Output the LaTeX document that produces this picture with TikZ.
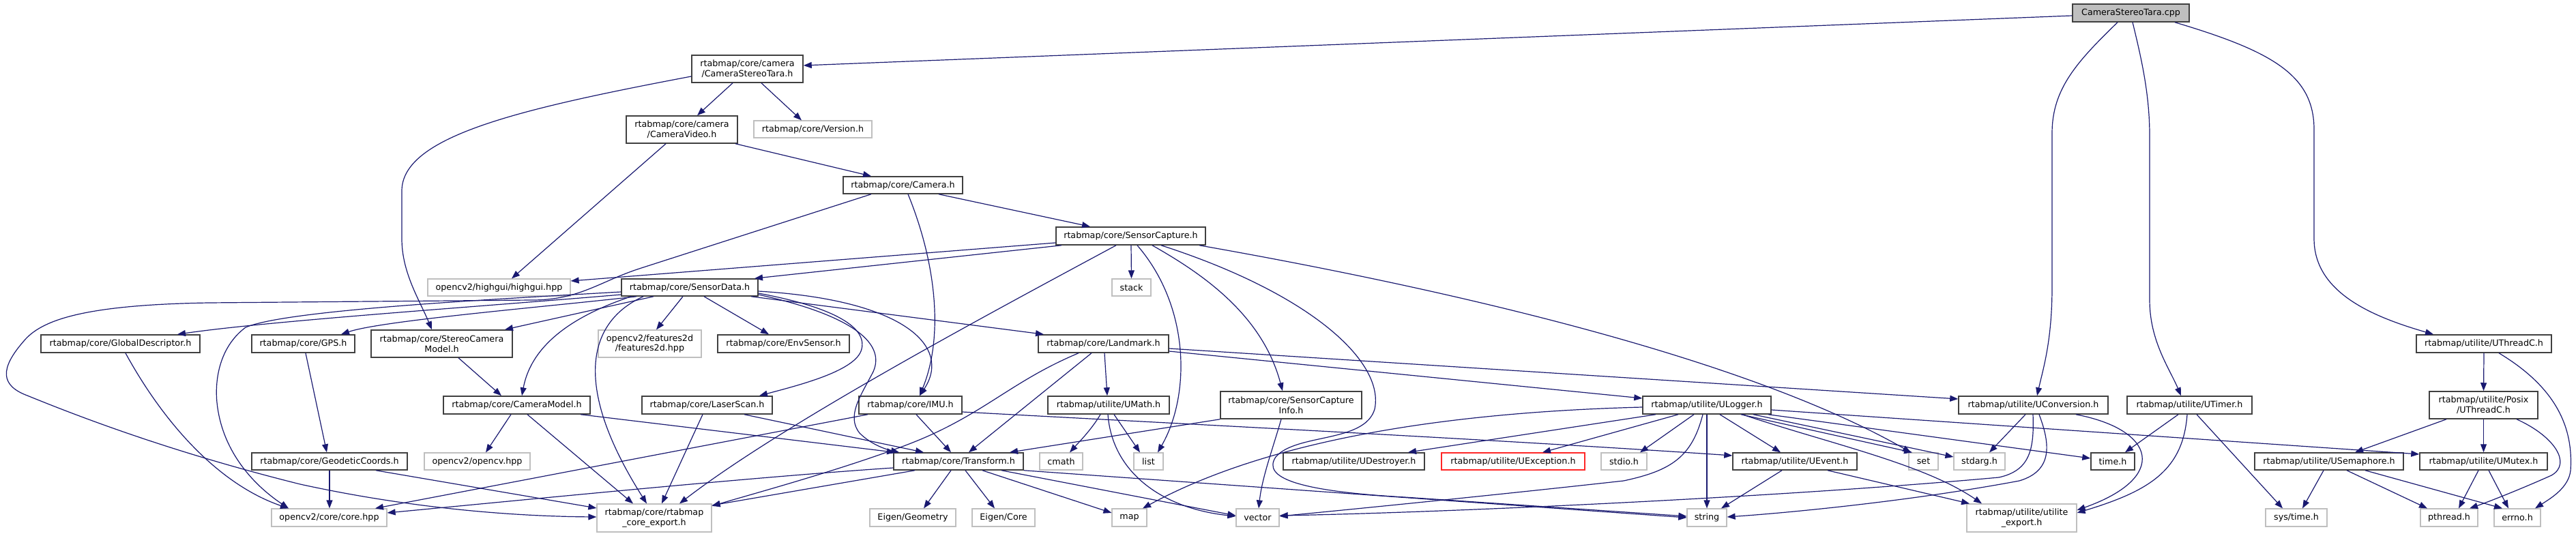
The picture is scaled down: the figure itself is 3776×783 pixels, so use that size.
\documentclass[tikz,border=0pt]{standalone}
\usepackage{fontspec}
\setmainfont{DejaVu Sans}
\usetikzlibrary{arrows.meta}
\definecolor{dblue}{HTML}{191970}
\definecolor{gdark}{HTML}{404040}
\definecolor{glight}{HTML}{BFBFBF}
\newcommand\dxfont{\fontsize{12.7pt}{14.6pt}\selectfont}
\tikzset{
  nb/.style={draw=gdark, line width=1.5pt, fill=white, inner sep=0pt, align=center, font=\dxfont},
  ng/.style={draw=glight, line width=1.2pt, fill=white, inner sep=0pt, align=center, font=\dxfont},
  nr/.style={draw=gdark, line width=1.5pt, fill=glight, inner sep=0pt, align=center, font=\dxfont},
  nred/.style={draw=red!85, line width=1.3pt, fill=white, inner sep=0pt, align=center, font=\dxfont},
  edge/.style={draw=dblue, line width=1.2pt, -{Triangle[length=12pt,width=9pt]}},
}
\begin{document}
\begin{tikzpicture}[x=1pt,y=-1pt]
\useasboundingbox (0,0) rectangle (3776,783);
% rank 0-4
\node[nr, minimum width=171, minimum height=26] (cpp) at (3123.5,19) {CameraStereoTara.cpp};
\node[nb, minimum width=163, minimum height=40] (tara) at (1095.5,101) {rtabmap/core/camera\\/CameraStereoTara.h};
\node[nb, minimum width=163, minimum height=40] (video) at (999.5,190) {rtabmap/core/camera\\/CameraVideo.h};
\node[ng, minimum width=173, minimum height=25] (version) at (1191.5,189.5) {rtabmap/core/Version.h};
\node[nb, minimum width=175, minimum height=25] (camera) at (1323.5,271.5) {rtabmap/core/Camera.h};
\node[nb, minimum width=219, minimum height=26] (capture) at (1657.5,346) {rtabmap/core/SensorCapture.h};
% rank 5
\node[ng, minimum width=209, minimum height=25] (highgui) at (731.5,421.5) {opencv2/highgui/highgui.hpp};
\node[nb, minimum width=200, minimum height=25] (sdata) at (1011,421.5) {rtabmap/core/SensorData.h};
\node[ng, minimum width=57, minimum height=25] (stack) at (1658.5,421.5) {stack};
% rank 6
\node[nb, minimum width=233, minimum height=26] (gdesc) at (176.5,504) {rtabmap/core/GlobalDescriptor.h};
\node[nb, minimum width=151, minimum height=26] (gps) at (444.5,504) {rtabmap/core/GPS.h};
\node[nb, minimum width=207, minimum height=40] (stereo) at (647.5,504) {rtabmap/core/StereoCamera\\Model.h};
\node[ng, minimum width=151, minimum height=40] (f2d) at (952.5,504) {opencv2/features2d\\/features2d.hpp};
\node[nb, minimum width=193, minimum height=26] (env) at (1148.5,504) {rtabmap/core/EnvSensor.h};
\node[nb, minimum width=191, minimum height=26] (landmark) at (1617.5,504) {rtabmap/core/Landmark.h};
\node[nb, minimum width=198, minimum height=26] (uthreadc) at (3641,504) {rtabmap/utilite/UThreadC.h};
% rank 7
\node[nb, minimum width=215, minimum height=26] (cammodel) at (757.5,594) {rtabmap/core/CameraModel.h};
\node[nb, minimum width=191, minimum height=26] (laser) at (1036.5,594) {rtabmap/core/LaserScan.h};
\node[nb, minimum width=151, minimum height=26] (imu) at (1334.5,594) {rtabmap/core/IMU.h};
\node[nb, minimum width=178, minimum height=26] (umath) at (1625,594) {rtabmap/utilite/UMath.h};
\node[nb, minimum width=207, minimum height=40] (scinfo) at (1892.5,594) {rtabmap/core/SensorCapture\\Info.h};
\node[nb, minimum width=188, minimum height=26] (ulogger) at (2502,594) {rtabmap/utilite/ULogger.h};
\node[nb, minimum width=219, minimum height=26] (uconv) at (2980.5,594) {rtabmap/utilite/UConversion.h};
\node[nb, minimum width=183, minimum height=26] (utimer) at (3209.5,594) {rtabmap/utilite/UTimer.h};
\node[nb, minimum width=159, minimum height=40] (posix) at (3640.5,594) {rtabmap/utilite/Posix\\/UThreadC.h};
% rank 8
\node[nb, minimum width=228, minimum height=25] (geodetic) at (483,676.5) {rtabmap/core/GeodeticCoords.h};
\node[ng, minimum width=155, minimum height=25] (opencv) at (699.5,676.5) {opencv2/opencv.hpp};
\node[nb, minimum width=190, minimum height=25] (transform) at (1405,676.5) {rtabmap/core/Transform.h};
\node[ng, minimum width=63, minimum height=25] (cmath) at (1555.5,676.5) {cmath};
\node[ng, minimum width=43, minimum height=25] (list) at (1683.5,676.5) {list};
\node[nb, minimum width=207, minimum height=25] (udestroyer) at (1984.5,676.5) {rtabmap/utilite/UDestroyer.h};
\node[nred, minimum width=210, minimum height=25] (uexception) at (2218,676.5) {rtabmap/utilite/UException.h};
\node[ng, minimum width=67, minimum height=25] (stdio) at (2380.5,676.5) {stdio.h};
\node[nb, minimum width=182, minimum height=25] (uevent) at (2631,676.5) {rtabmap/utilite/UEvent.h};
\node[ng, minimum width=43, minimum height=25] (set) at (2819.5,676.5) {set};
\node[ng, minimum width=75, minimum height=25] (stdarg) at (2901.5,676.5) {stdarg.h};
\node[nb, minimum width=64, minimum height=25] (time) at (3097,676.5) {time.h};
\node[nb, minimum width=218, minimum height=25] (usem) at (3414,676.5) {rtabmap/utilite/USemaphore.h};
\node[nb, minimum width=187, minimum height=25] (umutex) at (3640.5,676.5) {rtabmap/utilite/UMutex.h};
% rank 9
\node[ng, minimum width=169, minimum height=26] (corehpp) at (482.5,759) {opencv2/core/core.hpp};
\node[ng, minimum width=168, minimum height=41] (coreexp) at (959,759.5) {rtabmap/core/rtabmap\\\_core\_export.h};
\node[ng, minimum width=126, minimum height=26] (egeom) at (1338,759) {Eigen/Geometry};
\node[ng, minimum width=92, minimum height=26] (ecore) at (1471,759) {Eigen/Core};
\node[ng, minimum width=51, minimum height=26] (map) at (1655.5,759) {map};
\node[ng, minimum width=63, minimum height=26] (vector) at (1843.5,759) {vector};
\node[ng, minimum width=58, minimum height=26] (string) at (2502,759) {string};
\node[ng, minimum width=161, minimum height=41] (uexport) at (2963.5,759.5) {rtabmap/utilite/utilite\\\_export.h};
\node[ng, minimum width=90, minimum height=26] (systime) at (3366,759) {sys/time.h};
\node[ng, minimum width=84, minimum height=26] (pthread) at (3590,759) {pthread.h};
\node[ng, minimum width=68, minimum height=26] (errno) at (3690,759) {errno.h};

% ---- edges: root
\draw[edge] (cpp.west |- 0,23) -- (tara.east |- 0,96);
\draw[edge] (cpp.south -| 3104,0) .. controls (3045,90) and (3008,130) .. (3008,195) -- (3008,420) .. controls (3008,500) and (2995,540) .. (uconv.north -| 2986,0);
\draw[edge] (cpp.south -| 3126,0) .. controls (3140,90) and (3151,140) .. (3151,200) -- (3151,440) .. controls (3151,500) and (3180,540) .. (utimer.north -| 3197,0);
\draw[edge] (cpp.south -| 3188,0) .. controls (3330,75) and (3392,110) .. (3392,190) -- (3392,350) .. controls (3392,430) and (3480,465) .. (uthreadc.north -| 3567,0);
% tara
\draw[edge] (tara.south -| 1074,0) -- (video.north -| 1022,0);
\draw[edge] (tara.south -| 1116,0) -- (version.north -| 1175,0);
\draw[edge] (tara.west |- 0,112) .. controls (760,160) and (589,200) .. (589,280) -- (589,350) .. controls (589,400) and (615,440) .. (stereo.north -| 633,0);
% video
\draw[edge] (video.south -| 1078,0) -- (camera.north -| 1277,0);
\draw[edge] (video.south -| 976,0) -- (highgui.north -| 750,0);
% camera
\draw[edge] (camera.south -| 1376,0) -- (capture.north -| 1598,0);
\draw[edge] (camera.south -| 1331,0) .. controls (1370,380) and (1385,490) .. (imu.north -| 1348,0);
\draw[edge] (camera.south -| 1277,0) -- (940,393) .. controls (880,412) and (850,440) .. (780,440) -- (306,444) .. controls (120,447) and (60,470) .. (35,500) .. controls (0,540) and (0,565) .. (40,580) .. controls (150,625) and (280,670) .. (440,710) .. controls (600,745) and (750,757) .. (coreexp.west |- 0,758);
% capture
\draw[edge] (capture.west |- 0,356) -- (highgui.east |- 0,412);
\draw[edge] (capture.south -| 1556,0) -- (sdata.north -| 1106,0);
\draw[edge] (capture.south -| 1636,0) .. controls (1450,460) and (1150,620) .. (coreexp.north -| 996,0);
\draw[edge] (capture.south -| 1658,0) -- (stack.north);
\draw[edge] (capture.south -| 1667,0) .. controls (1745,450) and (1745,580) .. (list.north -| 1697,0);
\draw[edge] (capture.south -| 1689,0) .. controls (1760,400) and (1850,460) .. (scinfo.north -| 1880,0);
\draw[edge] (capture.south -| 1702,0) .. controls (1920,430) and (2030,530) .. (2015,600) .. controls (2000,650) and (1900,635) .. (1870,670) .. controls (1850,700) and (1900,720) .. (2059,729) -- (string.west |- 0,757);
\draw[edge] (capture.south -| 1758,0) .. controls (2100,420) and (2550,520) .. (set.north -| 2801,0);
% sensor data
\draw[edge] (sdata.south -| 1001,0) -- (f2d.north -| 962,0);
\draw[edge] (sdata.south -| 1032,0) -- (env.north -| 1127,0);
\draw[edge] (sdata.east |- 0,430) .. controls (1220,450) and (1275,480) .. (1262,515) .. controls (1250,545) and (1170,565) .. (laser.north -| 1113,0);
\draw[edge] (sdata.east |- 0,427) .. controls (1330,440) and (1395,510) .. (imu.north -| 1348,0);
\draw[edge] (sdata.east |- 0,432) .. controls (1240,460) and (1300,500) .. (1280,545) .. controls (1262,580) and (1240,610) .. (1260,635) .. controls (1275,650) and (1295,658) .. (transform.north -| 1318,0);
\draw[edge] (sdata.south -| 1101,0) -- (landmark.north -| 1530,0);
\draw[edge] (sdata.south -| 958,0) -- (stereo.north -| 740,0);
\draw[edge] (sdata.south -| 933,0) .. controls (800,450) and (560,470) .. (gps.north -| 500,0);
\draw[edge] (sdata.west |- 0,432) .. controls (700,450) and (400,470) .. (gdesc.north -| 260,0);
\draw[edge] (sdata.west |- 0,428) .. controls (700,440) and (420,455) .. (360,480) .. controls (320,510) and (315,560) .. (318,590) .. controls (325,660) and (370,710) .. (corehpp.north -| 423,0);
\draw[edge] (sdata.south -| 943,0) .. controls (865,470) and (835,560) .. (coreexp.north -| 948,0);
\draw[edge] (sdata.south -| 925,0) .. controls (850,460) and (780,500) .. (cammodel.north -| 765,0);
% camera model etc.
\draw[edge] (cammodel.south -| 749,0) -- (opencv.north -| 712,0);
\draw[edge] (cammodel.south -| 851,0) -- (transform.north -| 1312,0);
\draw[edge] (cammodel.south -| 773,0) -- (coreexp.north -| 928,0);
\draw[edge] (stereo.south -| 672,0) -- (cammodel.north -| 735,0);
\draw[edge] (gdesc.south -| 184,0) .. controls (240,620) and (320,710) .. (corehpp.north -| 423,0);
\draw[edge] (gps.south -| 448,0) -- (geodetic.north -| 479,0);
\draw[edge] (geodetic.south -| 483,0) -- (corehpp.north -| 483,0);
\draw[edge] (geodetic.south -| 551,0) -- (coreexp.west |- 0,745);
\draw[edge] (laser.south -| 1030,0) -- (coreexp.north -| 970,0);
\draw[edge] (laser.south -| 1091,0) -- (transform.north -| 1354,0);
\draw[edge] (imu.south -| 1343,0) -- (transform.north -| 1394,0);
\draw[edge] (imu.south -| 1272,0) -- (corehpp.north -| 550,0);
\draw[edge] (imu.east |- 0,604) .. controls (1800,625) and (2200,645) .. (uevent.west |- 0,668);
% landmark
\draw[edge] (landmark.south -| 1600,0) -- (transform.north -| 1420,0);
\draw[edge] (landmark.south -| 1581,0) .. controls (1480,560) and (1440,610) .. (1330,652) .. controls (1230,690) and (1100,725) .. (coreexp.east |- 0,742);
\draw[edge] (landmark.south -| 1619,0) -- (umath.north -| 1623,0);
\draw[edge] (landmark.east |- 0,515) -- (ulogger.west |- 0,584);
\draw[edge] (landmark.east |- 0,511) -- (uconv.west |- 0,585);
% umath, scinfo
\draw[edge] (umath.south -| 1613,0) .. controls (1600,630) and (1580,650) .. (cmath.north -| 1568,0);
\draw[edge] (umath.south -| 1633,0) -- (list.north -| 1671,0);
\draw[edge] (umath.south -| 1624,0) .. controls (1630,690) and (1700,745) .. (vector.west |- 0,757);
\draw[edge] (scinfo.south west) -- (transform.north -| 1480,0);
\draw[edge] (scinfo.south -| 1878,0) .. controls (1865,660) and (1850,700) .. (vector.north -| 1845,0);
% ulogger
\draw[edge] (ulogger.south -| 2427,0) -- (udestroyer.north -| 2064,0);
\draw[edge] (ulogger.south -| 2460,0) -- (uexception.north -| 2261,0);
\draw[edge] (ulogger.south -| 2483,0) -- (stdio.north -| 2404,0);
\draw[edge] (ulogger.south -| 2496,0) .. controls (2480,670) and (2450,690) .. (2380,705) .. controls (2200,725) and (2000,745) .. (vector.east |- 0,757);
\draw[edge] (ulogger.south) -- (string.north);
\draw[edge] (ulogger.south -| 2521,0) -- (uevent.north -| 2610,0);
\draw[edge] (ulogger.south -| 2552,0) -- (set.north -| 2803,0);
\draw[edge] (ulogger.south -| 2554,0) .. controls (2680,650) and (2820,680) .. (uexport.north -| 2905,0);
\draw[edge] (ulogger.south -| 2570,0) -- (stdarg.west |- 0,670);
\draw[edge] (ulogger.south -| 2592,0) -- (time.west |- 0,672);
\draw[edge] (ulogger.east |- 0,601) -- (umutex.west |- 0,666);
\draw[edge] (ulogger.west |- 0,597) .. controls (2100,605) and (1850,650) .. (map.north -| 1675,0);
% uevent, uconv, utimer
\draw[edge] (uevent.south -| 2612,0) -- (string.north -| 2523,0);
\draw[edge] (uevent.south -| 2679,0) -- (uexport.north -| 2887,0);
\draw[edge] (uconv.south -| 2969,0) -- (stdarg.north -| 2916,0);
\draw[edge] (uconv.south -| 2980,0) .. controls (2982,660) and (2975,690) .. (2930,700) .. controls (2600,730) and (2100,752) .. (vector.east |- 0,756);
\draw[edge] (uconv.south -| 2989,0) .. controls (3005,650) and (3010,690) .. (2960,705) .. controls (2800,735) and (2620,752) .. (string.east |- 0,758);
\draw[edge] (uconv.south -| 3043,0) .. controls (3160,630) and (3180,700) .. (uexport.east |- 0,748);
\draw[edge] (utimer.south -| 3193,0) -- (time.north -| 3115,0);
\draw[edge] (utimer.south -| 3220,0) -- (systime.north -| 3346,0);
\draw[edge] (utimer.south -| 3206,0) .. controls (3200,690) and (3150,720) .. (uexport.east |- 0,752);
% threads
\draw[edge] (uthreadc.south) -- (posix.north);
\draw[edge] (uthreadc.south -| 3663,0) .. controls (3750,570) and (3772,630) .. (3768,690) .. controls (3765,715) and (3740,730) .. (errno.north -| 3716,0);
\draw[edge] (posix.south -| 3586,0) -- (usem.north -| 3452,0);
\draw[edge] (posix.south) -- (umutex.north);
\draw[edge] (posix.south -| 3689,0) .. controls (3745,640) and (3770,680) .. (3740,697) .. controls (3700,715) and (3650,735) .. (pthread.north -| 3620,0);
\draw[edge] (usem.south -| 3406,0) -- (systime.north -| 3375,0);
\draw[edge] (usem.south -| 3440,0) -- (pthread.north -| 3558,0);
\draw[edge] (usem.south -| 3467,0) -- (errno.north -| 3668,0);
\draw[edge] (umutex.south -| 3633,0) -- (pthread.north -| 3604,0);
\draw[edge] (umutex.south -| 3648,0) -- (errno.north -| 3677,0);
% transform
\draw[edge] (transform.west |- 0,686) .. controls (1100,700) and (800,730) .. (corehpp.east |- 0,752);
\draw[edge] (transform.south -| 1341,0) -- (coreexp.east |- 0,741);
\draw[edge] (transform.south -| 1394,0) -- (egeom.north -| 1354,0);
\draw[edge] (transform.south -| 1415,0) -- (ecore.north -| 1458,0);
\draw[edge] (transform.south -| 1440,0) -- (map.west |- 0,752);
\draw[edge] (transform.south -| 1468,0) -- (vector.west |- 0,756);
\draw[edge] (transform.south east) -- (string.west |- 0,759);
\end{tikzpicture}
\end{document}
